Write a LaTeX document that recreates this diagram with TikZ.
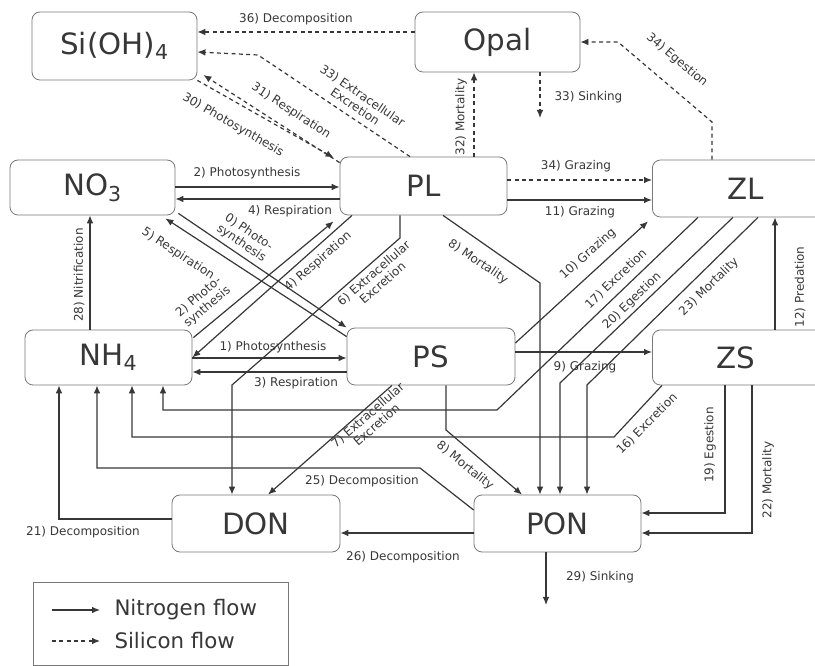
\documentclass[tikz,border=0pt]{standalone}
\usepackage{fontspec}
\setmainfont{DejaVu Sans}
\usetikzlibrary{arrows.meta,calc}
\definecolor{inkgray}{RGB}{55,55,55}
\definecolor{boxgray}{RGB}{120,120,120}
\tikzset{every picture/.style={line width=0.75pt}}
\tikzset{
  pool/.style={draw=boxgray, line width=0.6pt, rounded corners=6pt, inner sep=0pt, text=inkgray, font=\fontsize{22}{24}\selectfont, minimum width=125pt, minimum height=42.75pt},
  nflow/.style={draw=inkgray, line width=0.9pt, -{Latex[length=6pt,width=5pt]}},
  siflow/.style={nflow, dash pattern=on 3pt off 2.5pt},
  flowlbl/.style={inner sep=0.75pt, text=inkgray, font=\fontsize{9}{10}\selectfont, align=center},
}

\begin{document}
\begin{tikzpicture}[x=0.75pt,y=0.75pt,yscale=-1,xscale=1]
\useasboundingbox (0,0) rectangle (815,666);
\clip (0,0) rectangle (815,666);

%Shape: Pools
\node[pool, minimum width=123.75pt, minimum height=51pt] (siOH) at (114.5,46) {Si(OH)\textsubscript{4}};
\node[pool, minimum width=123.75pt, minimum height=45pt] (opal) at (497.5,42) {Opal};
\node[pool, minimum width=123.75pt, minimum height=41.25pt] (no3) at (92.5,187.5) {NO\textsubscript{3}};
\node[pool, minimum width=125.25pt, minimum height=43.5pt] (pl) at (423.5,186) {PL};
\node[pool, anchor=west, text width=150pt, align=left] (zl) at (652,188.5) {\hspace*{56pt}ZL};
\node[pool, minimum width=125.25pt, minimum height=41.25pt] (nh4) at (108.5,357.5) {NH\textsubscript{4}};
\node[pool, minimum width=126pt] (ps) at (431,356.5) {PS};
\node[pool, anchor=west, text width=150pt, align=left, minimum height=41.25pt] (zs) at (652,357.5) {\hspace*{48pt}ZS};
\node[pool, minimum width=126pt] (don) at (256,523.5) {DON};
\node[pool, minimum width=125.25pt] (pon) at (557.5,523.5) {PON};

%Silicon flows
\draw[siflow] (opal.west |- 0,32) -- (siOH.east |- 0,32);
\draw[siflow] (pl.north -| 410,0) -- (258,55) -- (siOH.east |- 0,52);
\draw[siflow] ($(pl.north west)+(0,6)$) -- ($(siOH.east)+(6,29)$);
\draw[siflow] (siOH.south east) -- ($(pl.north west)+(-6,1)$);
\draw[siflow] (pl.north -| 474,0) -- (opal.south -| 474,0);
\coordinate (opalsink) at (540,118);
\draw[siflow] (opal.south -| 540,0) -- (opalsink);
\draw[siflow] (zl.north -| 712,0) -- (712,122) -- (618,42) -- (opal.east);
\draw[siflow] (pl.east |- 0,180) -- (zl.west |- 0,180);

%Nitrogen flows
\draw[nflow] (no3.east |- 0,187) -- (pl.west |- 0,187);
\draw[nflow] (pl.west |- 0,199) -- (no3.east |- 0,199);
\draw[nflow] (pl.east |- 0,200) -- (zl.west |- 0,200);
\draw[nflow] ($(no3.south east)+(3,-2)$) -- (ps.north west);
\draw[nflow] ($(ps.north west)+(0,9)$) -- ($(no3.south east)+(-10,3)$);
\draw[nflow] ($(nh4.north east)+(1,8)$) -- ($(pl.south west)+(-6,6)$);
\draw[nflow] (pl.south -| 352,0) -- (nh4.east);
\draw[nflow] (pl.south -| 400,0) -- (400,238) -- (232,385) -- (don.north -| 232,0);
\draw[nflow] (ps.south -| 392,0) -- (don.north -| 268,0);
\draw[nflow] (nh4.east |- 0,358) -- (ps.west |- 0,358);
\draw[nflow] (ps.west |- 0,372) -- (nh4.east |- 0,372);
\draw[nflow] (pl.south -| 443,0) -- (540,283) -- (pon.north -| 540,0);
\draw[nflow] (ps.south -| 446,0) -- (446,430) -- (pon.north -| 522,0);
\draw[nflow] (ps.east |- 0,352) -- (zs.west |- 0,352);
\draw[nflow] (ps.east |- 0,343) -- ($(zl.south west)+(-4,4)$);
\draw[nflow] (zl.south -| 698,0) -- (497,410) -- (163,410) -- (nh4.south -| 163,0);
\draw[nflow] (zl.south -| 733,0) -- (560,383) -- (pon.north -| 560,0);
\draw[nflow] (zl.south -| 758,0) -- (587,385) -- (pon.north -| 587,0);
\draw[nflow] (zs.north -| 775,0) -- (zl.south -| 775,0);
\draw[nflow] (zs.south -| 662,0) -- (614,437) -- (132,437) -- (nh4.south -| 132,0);
\draw[nflow] (zs.south -| 725,0) -- (725,513) -- (pon.east |- 0,513);
\draw[nflow] (zs.south -| 752,0) -- (752,533) -- (pon.east |- 0,533);
\draw[nflow] (pon.west |- 0,533) -- (don.east |- 0,533);
\draw[nflow] (don.west |- 0,519) -- (59,519) -- (nh4.south -| 59,0);
\draw[nflow] (pon.west |- 0,510) -- (420,468) -- (97,468) -- (nh4.south -| 97,0);
\draw[nflow] (nh4.north -| 90,0) -- (no3.south -| 90,0);
\coordinate (ponsink) at (546,605);
\draw[nflow] (pon.south -| 546,0) -- (ponsink);

% Text Node
\node[flowlbl] (l36) at (296,19) {36) Decomposition};
\node[flowlbl, rotate=-34] (l33e) at (359,101) {33) Extracellular\\Excretion};
\node[flowlbl, rotate=-33] (l31) at (291,111) {31) Respiration};
\node[flowlbl, rotate=-30] (l30) at (233,125) {30) Photosynthesis};
\node[flowlbl, rotate=90] (l32) at (461,117) {32) Mortality};
\node[flowlbl, anchor=west] (l33s) at (553,97) {33) Sinking};
\node[flowlbl, rotate=-40] (l34e) at (677,60) {34) Egestion};
\node[flowlbl] (l34g) at (576,166) {34) Grazing};
\node[flowlbl] (l2) at (247,173) {2) Photosynthesis};
\node[flowlbl] (l4) at (290,211) {4) Respiration};
\node[flowlbl] (l11) at (580,212) {11) Grazing};
\node[flowlbl, rotate=-34] (l0) at (245,238) {0) Photo-\\synthesis};
\node[flowlbl, rotate=-33] (l5) at (178,254) {5) Respiration};
\node[flowlbl, rotate=40] (l2d) at (203,302) {2) Photo-\\synthesis};
\node[flowlbl, rotate=41] (l4d) at (318,262) {4) Respiration};
\node[flowlbl, rotate=41] (l6) at (378,278) {6) Extracellular\\Excretion};
\node[flowlbl] (l1) at (273,347) {1) Photosynthesis};
\node[flowlbl] (l3) at (296,383) {3) Respiration};
\node[flowlbl, rotate=41] (l7) at (372,420) {7) Extracellular\\Excretion};
\node[flowlbl, rotate=-34] (l8a) at (478,262) {8) Mortality};
\node[flowlbl, rotate=-39] (l8b) at (465,466) {8) Mortality};
\node[flowlbl] (l9) at (585,367) {9) Grazing};
\node[flowlbl, rotate=42] (l10) at (588,254) {10) Grazing};
\node[flowlbl, rotate=44] (l17) at (616,279) {17) Excretion};
\node[flowlbl, rotate=44] (l20) at (632,301) {20) Egestion};
\node[flowlbl, rotate=44] (l23) at (709,287) {23) Mortality};
\node[flowlbl, rotate=90] (l12) at (800,287) {12) Predation};
\node[flowlbl, rotate=45] (l16) at (647,424) {16) Excretion};
\node[flowlbl, rotate=90] (l19) at (710,445) {19) Egestion};
\node[flowlbl, rotate=90] (l22) at (768,480) {22) Mortality};
\node[flowlbl] (l26) at (403,557) {26) Decomposition};
\node[flowlbl] (l21) at (83,532) {21) Decomposition};
\node[flowlbl] (l25) at (362,481) {25) Decomposition};
\node[flowlbl, rotate=90] (l28) at (79,275) {28) Nitrification};
\node[flowlbl] (l29) at (600,577) {29) Sinking};

%Legend
\node[draw=boxgray, line width=0.6pt, minimum width=191.25pt, minimum height=62.25pt, inner sep=0pt] (legend) at (160.5,623.5) {};
\coordinate (nkeya) at (52,610);
\coordinate (nkeyb) at (100,610);
\coordinate (skeya) at (52,641);
\coordinate (skeyb) at (100,641);
\draw[nflow] (nkeya) -- (nkeyb);
\draw[siflow] (skeya) -- (skeyb);
\node[flowlbl, anchor=west, font=\fontsize{16}{18}\selectfont] (nkeytxt) at (113,610) {Nitrogen flow};
\node[flowlbl, anchor=west, font=\fontsize{16}{18}\selectfont] (skeytxt) at (113,641) {Silicon flow};

\end{tikzpicture}
\end{document}
